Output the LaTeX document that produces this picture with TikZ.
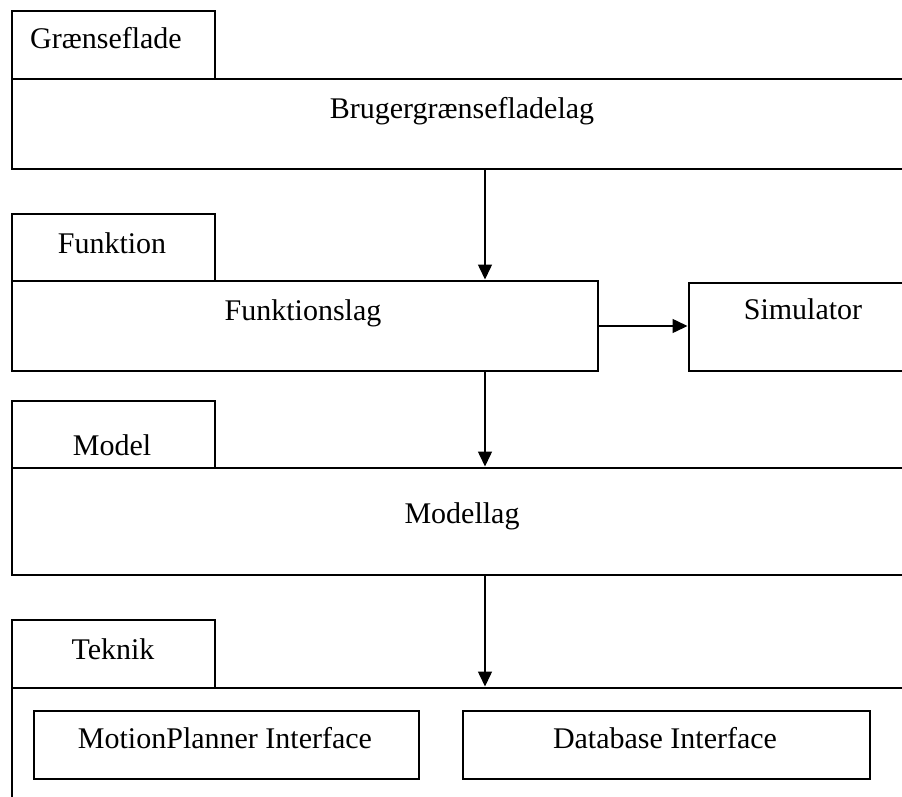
\documentclass[tikz,border=0pt]{standalone}
\usepackage{fontspec}
\setmainfont{Liberation Serif}
\usetikzlibrary{arrows.meta}
\begin{document}
\begin{tikzpicture}[x=1pt,y=-1pt,
  frame/.style={draw, line width=2pt, inner sep=0pt, anchor=north west},
  lbl/.style={font=\fontsize{30}{36}\selectfont, inner sep=0pt, anchor=base},
  arr/.style={line width=1.5pt, -{Triangle[length=15pt,width=14pt]}, shorten >=0.5pt}]
\clip (0,0) rectangle (902,796);
\fill[white] (0,0) rectangle (902,796);

% layer: user interface
\node[frame, minimum width=203pt, minimum height=68pt] (tabui) at (11,10) {};
\node[frame, minimum width=902pt, minimum height=90pt] (ui) at (11,78) {};
\node[lbl] (tabuitext) at (106,48) {Grænseflade};
\node[lbl] (uitext) at (462,118) {Brugergrænsefladelag};

% layer: function
\node[frame, minimum width=203pt, minimum height=67pt] (tabfn) at (11,213) {};
\node[frame, minimum width=586pt, minimum height=90pt] (fn) at (11,280) {};
\node[lbl] (tabfntext) at (112,253) {Funktion};
\node[lbl] (fntext) at (303,320) {Funktionslag};

% simulator
\node[frame, minimum width=230pt, minimum height=88pt] (sim) at (688,282) {};
\node[lbl] (simtext) at (803,319) {Simulator};

% layer: model
\node[frame, minimum width=203pt, minimum height=67pt] (tabmod) at (11,400) {};
\node[frame, minimum width=902pt, minimum height=107pt] (mod) at (11,467) {};
\node[lbl] (tabmodtext) at (112,455) {Model};
\node[lbl] (modtext) at (462,523) {Modellag};

% layer: technique
\node[frame, minimum width=203pt, minimum height=68pt] (tabtek) at (11,619) {};
\node[frame, minimum width=902pt, minimum height=140pt] (tek) at (11,687) {};
\node[lbl] (tabtektext) at (113,659) {Teknik};
\node[frame, minimum width=385pt, minimum height=68pt] (mp) at (33,710) {};
\node[lbl] (mptext) at (225,748) {MotionPlanner Interface};
\node[frame, minimum width=407pt, minimum height=68pt] (db) at (462,710) {};
\node[lbl] (dbtext) at (665,748) {Database Interface};

% connectors
\coordinate (ax) at (485,0);
\draw[arr] (ui.south -| ax) -- (fn.north -| ax);
\draw[arr] (fn.south -| ax) -- (mod.north -| ax);
\draw[arr] (mod.south -| ax) -- (tek.north -| ax);
\draw[arr] (fn.east) -- (fn.east -| sim.west);
\end{tikzpicture}
\end{document}
